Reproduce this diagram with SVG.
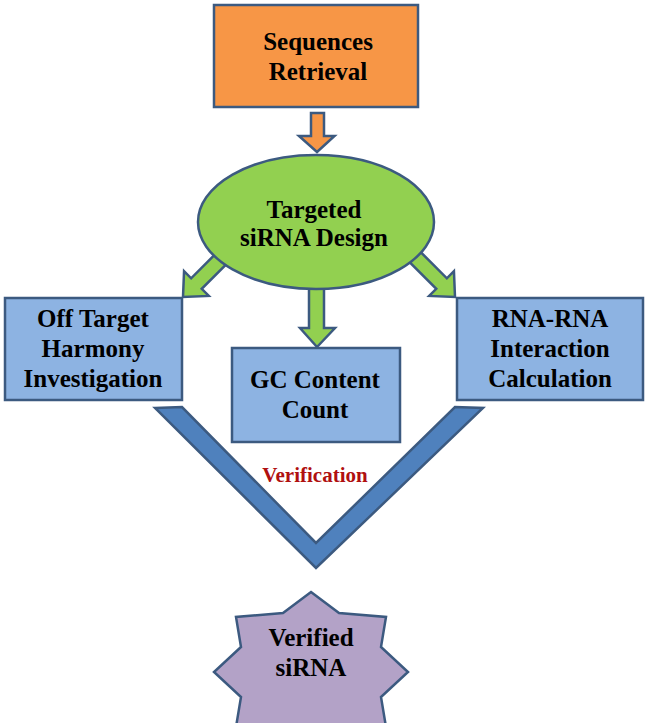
<svg xmlns="http://www.w3.org/2000/svg" width="647" height="723" viewBox="0 0 647 723">
<style>
  .lbl{font-family:"Liberation Serif","Times New Roman",serif;font-weight:bold;font-size:25px;fill:#000;text-anchor:middle}
  .edge{stroke:#3c5a80;stroke-width:2.5;stroke-linejoin:miter}
  .box{fill:#8db3e2}
  .garrow{fill:#92d050}
</style>
<rect width="647" height="723" fill="#fff"/>
<g id="connectors">
  <polygon class="edge" fill="#f79646" points="311,113 324,113 324,136 334.5,136 317,152 299,136 311,136"/>
  <g class="edge garrow">
    <polygon points="309,280 324,280 324,328 335,328 317,347 300,328 309,328"/>
    <polygon transform="translate(183,297) rotate(45)" points="-7.5,-70 7.5,-70 7.5,-19 17.5,-19 0,0 -17.5,-19 -7.5,-19"/>
    <polygon transform="translate(455,297) rotate(-45)" points="-7.5,-70 7.5,-70 7.5,-19 17.5,-19 0,0 -17.5,-19 -7.5,-19"/>
  </g>
  <polygon class="edge" fill="#4f81bd" points="155,408 182,407 316,543 455,407 483,408 316,568"/>
  <text class="lbl" x="315" y="482" style="font-size:21px;fill:#b01010">Verification</text>
</g>
<g id="sequences-retrieval">
  <rect class="edge" fill="#f79646" x="214" y="5" width="204" height="102"/>
  <text class="lbl" x="318" y="50">Sequences</text>
  <text class="lbl" x="318" y="80">Retrieval</text>
</g>
<g id="targeted-sirna-design">
  <ellipse class="edge" fill="#92d050" cx="316" cy="222" rx="118" ry="67"/>
  <text class="lbl" x="314" y="218">Targeted</text>
  <text class="lbl" x="314" y="246">siRNA Design</text>
</g>
<g id="off-target">
  <rect class="edge box" x="5" y="298" width="177" height="102"/>
  <text class="lbl" x="93" y="327">Off Target</text>
  <text class="lbl" x="93" y="357">Harmony</text>
  <text class="lbl" x="93" y="387">Investigation</text>
</g>
<g id="gc-content">
  <rect class="edge box" x="232" y="348" width="168" height="94"/>
  <text class="lbl" x="315" y="388">GC Content</text>
  <text class="lbl" x="315" y="418">Count</text>
</g>
<g id="rna-rna">
  <rect class="edge box" x="457" y="298" width="186" height="102"/>
  <text class="lbl" x="550" y="327">RNA-RNA</text>
  <text class="lbl" x="550" y="357">Interaction</text>
  <text class="lbl" x="550" y="387">Calculation</text>
</g>
<g id="verified-sirna">
  <polygon class="edge" fill="#b3a2c7" points="311,592 339,613 386,617 381,647 408,672 381,697 386,727 339,731 311,752 283,731 236,727 241,697 214,672 241,647 236,617 283,613"/>
  <text class="lbl" x="311" y="646">Verified</text>
  <text class="lbl" x="311" y="676">siRNA</text>
</g>
</svg>
